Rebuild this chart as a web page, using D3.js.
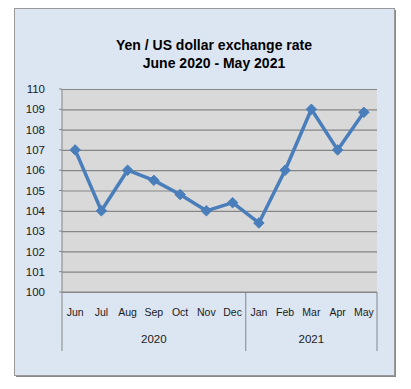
<!DOCTYPE html>
<html>
<head>
<meta charset="utf-8">
<script src="https://cdn.jsdelivr.net/npm/d3@7"></script>
<style>
  body { margin: 0; background: #ffffff; }
  svg { display: block; font-family: "Liberation Sans", Arial, sans-serif; }
</style>
</head>
<body>
<div id="chart"></div>
<script>
// data
var months = ["Jun", "Jul", "Aug", "Sep", "Oct", "Nov", "Dec", "Jan", "Feb", "Mar", "Apr", "May"];
var years = ["2020", "2020", "2020", "2020", "2020", "2020", "2020", "2021", "2021", "2021", "2021", "2021"];
var rates = [107, 104, 106, 105.5, 104.8, 104, 104.4, 103.4, 106, 109, 107, 108.85];
var yTicks = [100, 101, 102, 103, 104, 105, 106, 107, 108, 109, 110];

var width = 411, height = 389;
var plot = { left: 62, right: 377, top: 89, bottom: 292 };

var svg = d3.select("#chart").append("svg")
  .attr("width", width)
  .attr("height", height);

// outer chart box with shadowed right/bottom edge
svg.append("rect")
  .attr("x", 16).attr("y", 10)
  .attr("width", 380).attr("height", 367)
  .attr("fill", "#8a8a8a");
svg.append("rect")
  .attr("x", 14.5).attr("y", 8.5)
  .attr("width", 380).attr("height", 367)
  .attr("fill", "#dce6f2")
  .attr("stroke", "#9a9a9a")
  .attr("stroke-width", 1);

// title
var title = svg.append("text")
  .attr("text-anchor", "middle")
  .attr("font-weight", "bold")
  .attr("font-size", "14px")
  .attr("fill", "#000");
title.append("tspan").attr("x", 214).attr("y", 50).text("Yen / US dollar exchange rate");
title.append("tspan").attr("x", 214).attr("y", 68).text("June 2020 - May 2021");

var x = d3.scaleBand()
  .domain(d3.range(months.length))
  .range([plot.left, plot.right]);

var y = d3.scaleLinear()
  .domain([100, 110])
  .range([plot.bottom, plot.top]);

// plot area
svg.append("rect")
  .attr("x", plot.left).attr("y", plot.top)
  .attr("width", plot.right - plot.left)
  .attr("height", plot.bottom - plot.top)
  .attr("fill", "#d9d9d9");

// horizontal gridlines + y labels
svg.append("g")
  .attr("transform", "translate(" + plot.left + ",0)")
  .call(d3.axisLeft(y).tickValues(yTicks).tickSize(-(plot.right - plot.left)).tickPadding(17).tickFormat(d3.format("d")))
  .call(function(g) {
    g.select(".domain").remove();
    g.selectAll(".tick line").attr("stroke", "#868686").attr("stroke-width", 1.2);
    g.selectAll(".tick text").attr("font-size", "11.5px").attr("fill", "#1a1a1a").attr("font-family", "Liberation Sans, Arial, sans-serif");
  });

// small outward ticks on the value axis
svg.append("g").selectAll("line")
  .data(yTicks)
  .enter().append("line")
  .attr("x1", plot.left - 3).attr("x2", plot.left)
  .attr("y1", function(d) { return y(d); })
  .attr("y2", function(d) { return y(d); })
  .attr("stroke", "#868686");

// left axis line
svg.append("line")
  .attr("x1", plot.left).attr("x2", plot.left)
  .attr("y1", plot.top).attr("y2", plot.bottom)
  .attr("stroke", "#868686");

// category axis: month labels
svg.append("g").selectAll("text")
  .data(months)
  .enter().append("text")
  .attr("x", function(d, i) { return x(i) + x.bandwidth() / 2; })
  .attr("y", 316)
  .attr("text-anchor", "middle")
  .attr("font-size", "10.5px")
  .attr("fill", "#1a1a1a")
  .text(function(d) { return d; });

// year groups
var groups = d3.groups(d3.range(months.length), function(i) { return years[i]; });
svg.append("g").selectAll("text")
  .data(groups)
  .enter().append("text")
  .attr("x", function(g) {
    var a = g[1][0], b = g[1][g[1].length - 1];
    return (x(a) + x(b) + x.bandwidth()) / 2;
  })
  .attr("y", 343)
  .attr("text-anchor", "middle")
  .attr("font-size", "11.5px")
  .attr("fill", "#1a1a1a")
  .text(function(g) { return g[0]; });

// group separators
var seps = [0].concat(groups.map(function(g) { return g[1][g[1].length - 1] + 1; }));
svg.append("g").selectAll("line")
  .data(seps)
  .enter().append("line")
  .attr("x1", function(i) { return i < months.length ? x(i) : plot.right; })
  .attr("x2", function(i) { return i < months.length ? x(i) : plot.right; })
  .attr("y1", plot.bottom)
  .attr("y2", 351)
  .attr("stroke", "#868686");

// bottom axis line
svg.append("line")
  .attr("x1", plot.left).attr("x2", plot.right)
  .attr("y1", plot.bottom).attr("y2", plot.bottom)
  .attr("stroke", "#868686");

// the rate line
var line = d3.line()
  .x(function(d, i) { return x(i) + x.bandwidth() / 2; })
  .y(function(d) { return y(d); });

svg.append("path")
  .datum(rates)
  .attr("d", line)
  .attr("fill", "none")
  .attr("stroke", "#4a7ebb")
  .attr("stroke-width", 3.5)
  .attr("stroke-linejoin", "round");

// diamond markers
svg.append("g").selectAll("path")
  .data(rates)
  .enter().append("path")
  .attr("d", d3.symbol().type(d3.symbolDiamond2).size(70))
  .attr("transform", function(d, i) {
    return "translate(" + (x(i) + x.bandwidth() / 2) + "," + y(d) + ")";
  })
  .attr("fill", "#4a7ebb")
  .attr("stroke", "#4a7ebb");
</script>
</body>
</html>
